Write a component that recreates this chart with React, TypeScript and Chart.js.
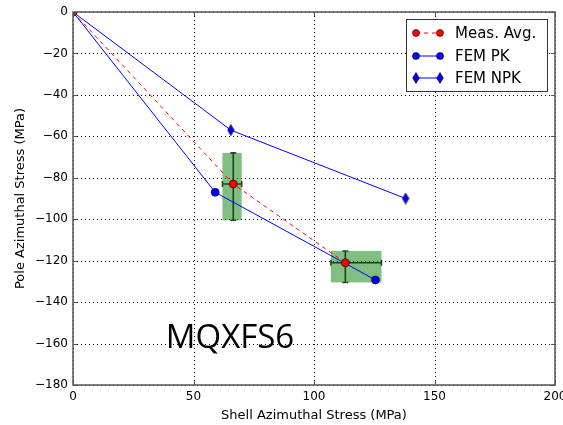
import React, { useEffect, useRef } from "react";
import { Chart, registerables } from "chart.js";
Chart.register(...registerables);

const measX = [0, 66.5, 113];
const measY = [0, -83, -121];
const pkX = [0, 59, 125.5];
const pkY = [0, -87, -129.3];
const npkX = [0, 65.5, 138];
const npkY = [0, -57, -90];
const boxXMin = [62, 107];
const boxXMax = [70, 128];
const boxYMin = [-100.5, -130.5];
const boxYMax = [-68, -115.3];
const errCX = [66.5, 113];
const errCY = [-83, -121];
const xTicks = [0, 50, 100, 150, 200];
const yTicks = [0, -20, -40, -60, -80, -100, -120, -140, -160, -180];
const seriesNames = ["Meas. Avg.", "FEM PK", "FEM NPK"];
const annotationText = "MQXFS6";
const annotationPos = [38.5, -157];

function thinDiamond(color: string) {
  const c = document.createElement("canvas");
  c.width = 8;
  c.height = 12;
  const g = c.getContext("2d")!;
  g.fillStyle = color;
  g.strokeStyle = "#000";
  g.lineWidth = 0.6;
  g.beginPath();
  g.moveTo(4, 0.5);
  g.lineTo(7.3, 6);
  g.lineTo(4, 11.5);
  g.lineTo(0.7, 6);
  g.closePath();
  g.fill();
  g.stroke();
  return c;
}

export default function App() {
  const ref = useRef<HTMLCanvasElement>(null);
  useEffect(() => {
    document.body.style.margin = "0";
    const diamond = thinDiamond("#0000ff");
    const boxPlugin = {
      id: "boxes",
      beforeDatasetsDraw(chart: any) {
        const { ctx, scales, chartArea: a } = chart;
        const x = scales.x, y = scales.y;
        ctx.save();
        ctx.strokeStyle = "#000";
        ctx.lineWidth = 1;
        ctx.setLineDash([1, 3]);
        ctx.beginPath();
        for (const v of xTicks) {
          const px = Math.round(x.getPixelForValue(v)) + 0.5;
          ctx.moveTo(px, a.top); ctx.lineTo(px, a.bottom);
        }
        for (const v of yTicks) {
          const py = Math.round(y.getPixelForValue(v)) + 0.5;
          ctx.moveTo(a.left, py); ctx.lineTo(a.right, py);
        }
        ctx.stroke();
        ctx.setLineDash([]);
        for (let i = 0; i < boxXMin.length; i++) {
          const x0 = x.getPixelForValue(boxXMin[i]);
          const x1 = x.getPixelForValue(boxXMax[i]);
          const y0 = y.getPixelForValue(boxYMax[i]);
          const y1 = y.getPixelForValue(boxYMin[i]);
          ctx.fillStyle = "rgba(0,128,0,0.5)";
          ctx.fillRect(x0, y0, x1 - x0, y1 - y0);
          const cx = x.getPixelForValue(errCX[i]);
          const cy = y.getPixelForValue(errCY[i]);
          ctx.strokeStyle = "rgba(20,40,20,0.85)";
          ctx.lineWidth = 1.6;
          ctx.beginPath();
          ctx.moveTo(cx, y0); ctx.lineTo(cx, y1);
          ctx.moveTo(x0, cy); ctx.lineTo(x1, cy);
          ctx.moveTo(cx - 3, y0); ctx.lineTo(cx + 3, y0);
          ctx.moveTo(cx - 3, y1); ctx.lineTo(cx + 3, y1);
          ctx.moveTo(x0, cy - 3); ctx.lineTo(x0, cy + 3);
          ctx.moveTo(x1, cy - 3); ctx.lineTo(x1, cy + 3);
          ctx.stroke();
        }
        ctx.restore();
      },
      afterDraw(chart: any) {
        const { ctx, scales, chartArea: a } = chart;
        const x = scales.x, y = scales.y;
        ctx.save();
        ctx.strokeStyle = "#555";
        ctx.lineWidth = 1.5;
        ctx.strokeRect(a.left, a.top, a.right - a.left, a.bottom - a.top);
        ctx.lineWidth = 1;
        ctx.beginPath();
        for (const v of xTicks) {
          const px = Math.round(x.getPixelForValue(v)) + 0.5;
          ctx.moveTo(px, a.bottom); ctx.lineTo(px, a.bottom - 4);
          ctx.moveTo(px, a.top); ctx.lineTo(px, a.top + 4);
        }
        for (const v of yTicks) {
          const py = Math.round(y.getPixelForValue(v)) + 0.5;
          ctx.moveTo(a.left, py); ctx.lineTo(a.left + 4, py);
          ctx.moveTo(a.right, py); ctx.lineTo(a.right - 4, py);
        }
        ctx.stroke();
        ctx.fillStyle = "#000";
        ctx.font = "33px 'Open Sans'";
        ctx.textBaseline = "middle";
        ctx.textAlign = "left";
        ctx.fillText(annotationText, x.getPixelForValue(annotationPos[0]), y.getPixelForValue(annotationPos[1]) + 1);
        const lx = 406, ly = 19, lw = 141, lh = 72;
        ctx.fillStyle = "#fff";
        ctx.fillRect(lx, ly, lw, lh);
        ctx.strokeStyle = "#333";
        ctx.lineWidth = 1;
        ctx.strokeRect(lx + 0.5, ly + 0.5, lw, lh);
        const rows = [14, 37, 59];
        const colors = ["#ff0000", "#0000ff", "#0000ff"];
        for (let i = 0; i < 3; i++) {
          const ry = ly + rows[i];
          ctx.strokeStyle = colors[i];
          ctx.lineWidth = 1;
          ctx.setLineDash(i === 0 ? [4, 4] : []);
          ctx.beginPath();
          ctx.moveTo(416, ry); ctx.lineTo(440, ry);
          ctx.stroke();
          ctx.setLineDash([]);
          for (const mx of [416, 440]) {
            if (i < 2) {
              ctx.fillStyle = colors[i];
              ctx.strokeStyle = "#000";
              ctx.lineWidth = 0.6;
              ctx.beginPath();
              ctx.arc(mx, ry, 3.5, 0, Math.PI * 2);
              ctx.fill();
              ctx.stroke();
            } else {
              ctx.drawImage(diamond, mx - 4, ry - 6);
            }
          }
          ctx.fillStyle = "#000";
          ctx.font = "15px 'DejaVu Sans'";
          ctx.textBaseline = "middle";
          ctx.fillText(seriesNames[i], 455, ry + 1);
        }
        ctx.restore();
      },
    };
    const toPts = (xs: number[], ys: number[]) => xs.map((v, i) => ({ x: v, y: ys[i] }));
    const chart = new Chart(ref.current!, {
      type: "scatter",
      data: {
        datasets: [
          {
            label: seriesNames[0],
            data: toPts(measX, measY),
            showLine: true,
            borderColor: "#ff0000",
            borderWidth: 1,
            borderDash: [4, 4],
            pointBackgroundColor: "#ff0000",
            pointBorderColor: "#000",
            pointBorderWidth: 0.6,
            pointRadius: 4,
          },
          {
            label: seriesNames[1],
            data: toPts(pkX, pkY),
            showLine: true,
            borderColor: "#0000ff",
            borderWidth: 1,
            pointBackgroundColor: "#0000ff",
            pointBorderColor: "#000",
            pointBorderWidth: 0.6,
            pointRadius: 4,
          },
          {
            label: seriesNames[2],
            data: toPts(npkX, npkY),
            showLine: true,
            borderColor: "#0000ff",
            borderWidth: 1,
            pointStyle: diamond as any,
            pointRadius: 5,
          },
        ],
      },
      options: {
        animation: false,
        responsive: false,
        layout: { padding: { left: 0, right: 8, top: 12, bottom: 0 } },
        plugins: { legend: { display: false }, tooltip: { enabled: false } },
        scales: {
          x: {
            type: "linear",
            min: 0,
            max: 200,
            afterBuildTicks: (s: any) => { s.ticks = xTicks.map((v) => ({ value: v })); },
            afterFit: (s: any) => { s.height = 40; s.paddingLeft = 0; s.paddingRight = 0; },
            grid: { display: false, drawTicks: false },
            border: { display: false },
            ticks: { color: "#000", font: { family: "DejaVu Sans", size: 12 }, padding: 5, maxRotation: 0 },
            title: { display: true, text: "Shell Azimuthal Stress (MPa)", color: "#000", font: { family: "DejaVu Sans", size: 13 }, padding: { top: 0, bottom: 2 } },
          },
          y: {
            type: "linear",
            min: -180,
            max: 0,
            afterBuildTicks: (s: any) => { s.ticks = yTicks.map((v) => ({ value: v })); },
            afterFit: (s: any) => { s.width = 73; s.paddingTop = 0; s.paddingBottom = 0; },
            grid: { display: false, drawTicks: false },
            border: { display: false },
            ticks: {
              color: "#000",
              font: { family: "DejaVu Sans", size: 12 },
              padding: 5,
              callback: (v: any) => String(v).replace("-", "\u2212"),
            },
            title: { display: true, text: "Pole Azimuthal Stress (MPa)", color: "#000", font: { family: "DejaVu Sans", size: 13 }, padding: { top: 13, bottom: 4 } },
          },
        },
      },
      plugins: [boxPlugin],
    });
    return () => chart.destroy();
  }, []);
  return (
    <canvas ref={ref} width={563} height={425} style={{ position: "absolute", left: 0, top: 0 }} />
  );
}
